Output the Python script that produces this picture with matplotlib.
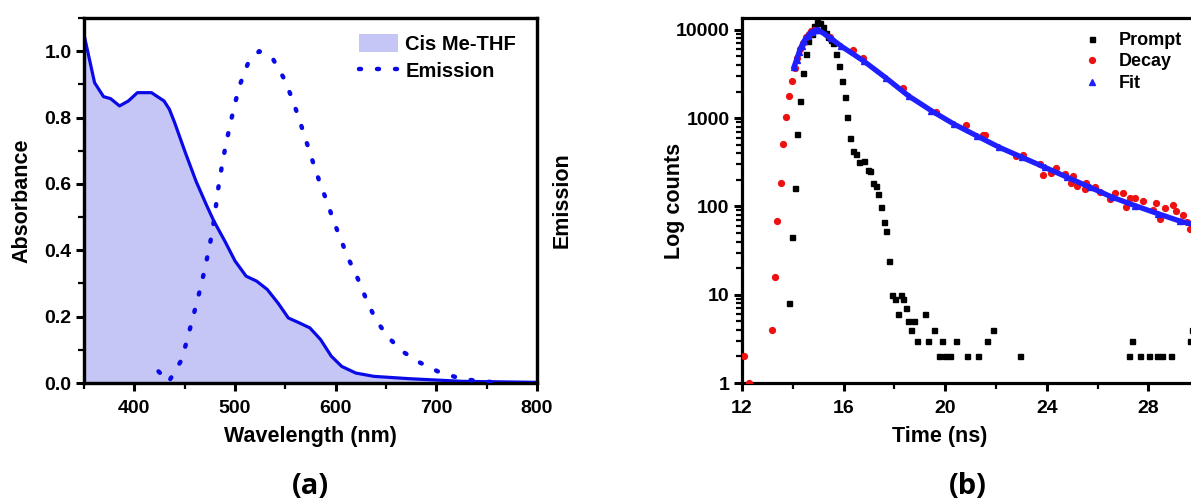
import matplotlib
matplotlib.use("Agg")
import matplotlib.pyplot as plt
from matplotlib.lines import Line2D
from matplotlib.patches import Patch
from matplotlib.ticker import MultipleLocator, LogLocator, NullFormatter, FixedLocator, FixedFormatter

# ---------------- (a) absorption / emission spectra ----------------
abs_wavelength = [350, 360.5, 369.4, 376.4, 385.3, 394.1, 403, 417, 429.5, 434.8, 440, 450.7,
                  461.3, 472, 479, 490, 500, 511, 521.5, 532, 542.7, 553, 564, 574.4,
                  585, 595.6, 606, 620, 638, 673, 726, 800]
absorbance = [1.05, 0.905, 0.863, 0.857, 0.835, 0.85, 0.875, 0.875, 0.85, 0.825, 0.785, 0.694,
              0.608, 0.534, 0.488, 0.427, 0.368, 0.322, 0.307, 0.282, 0.241, 0.196, 0.181,
              0.166, 0.131, 0.081, 0.05, 0.03, 0.02, 0.013, 0.005, 0.002]

em_wavelength = [424, 434, 447, 453, 458.5, 464, 469, 473.4, 477.3, 480.4, 483, 486.6,
                 490.3, 494.8, 499.4, 504.4, 512.6, 524, 538, 548.6, 556.8, 563.8, 570.2,
                 577.3, 584, 591.4, 598, 605.4, 613.4, 622.2, 631, 640, 652.2, 666.4, 684,
                 703.5, 724.8, 744, 760]
emission = [0.035, 0.003, 0.07, 0.137, 0.201, 0.266, 0.33, 0.393, 0.453, 0.518, 0.58, 0.647,
            0.709, 0.774, 0.835, 0.895, 0.961, 1.0, 0.975, 0.918, 0.857, 0.795, 0.734,
            0.667, 0.606, 0.546, 0.488, 0.43, 0.37, 0.313, 0.248, 0.19, 0.138, 0.095, 0.061,
            0.032, 0.013, 0.005, 0.002]

wl_ticks = [400, 500, 600, 700, 800]
abs_ticks = [0.0, 0.2, 0.4, 0.6, 0.8, 1.0]

# ---------------- (b) fluorescence decay ----------------
prompt_t = [13.84, 13.95, 14.07, 14.17, 14.27, 14.40, 14.51, 14.61, 14.74, 14.85, 14.96,
            15.07, 15.18, 15.29, 15.40, 15.50, 15.58, 15.70, 15.81, 15.93, 16.04, 16.13,
            16.24, 16.37, 16.48, 16.61, 16.79, 16.95, 17.05, 17.16, 17.26, 17.36, 17.47,
            17.58, 17.68, 17.79, 17.89, 18.01, 18.13, 18.26, 18.34, 18.45, 18.55, 18.67,
            18.79, 18.89, 19.22, 19.32, 19.55, 19.76, 19.87, 19.98, 20.20, 20.44, 20.87,
            21.31, 21.65, 21.88, 22.96, 27.24, 27.35, 27.68, 28.02, 28.34, 28.55, 28.89,
            29.63, 29.70]
prompt_counts = [8, 45, 163, 660, 1570, 3200, 5300, 7500, 9000, 11000, 12300,
                 12000, 10800, 9300, 8300, 7600, 7000, 5300, 3900, 2600, 1720, 1040,
                 600, 427, 390, 322, 330, 258, 252, 182, 170, 138, 98,
                 67, 53, 24, 10, 9, 6, 10, 9, 7, 5, 4,
                 5, 3, 6, 3, 4, 2, 3, 2, 2, 3, 2,
                 2, 3, 4, 2, 2, 3, 2, 2, 2, 2, 2,
                 3, 4]

decay_t = [12.07, 12.27, 13.18, 13.29, 13.39, 13.52, 13.62, 13.74, 13.85, 13.96, 14.07,
           14.18, 14.29, 14.40, 14.51, 14.62, 14.73, 14.85, 14.96, 15.45, 16.37, 16.76,
           18.34, 19.65, 20.83, 21.49, 21.56, 22.80, 23.06, 23.72, 23.85, 24.18, 24.38,
           24.70, 24.97, 25.03, 25.17, 25.49, 25.56, 25.89, 26.08, 26.48, 26.67, 27.00,
           27.13, 27.26, 27.46, 27.79, 28.18, 28.31, 28.47, 28.64, 28.97, 29.10, 29.36,
           29.50, 29.63]
decay_counts = [2, 1, 4, 16, 69, 182, 505, 1040, 1780, 2650, 3700,
                4800, 6000, 7100, 8200, 9000, 9600, 9900, 10000, 8350, 5900, 4800,
                2200, 1180, 830, 645, 650, 375, 385, 300, 225, 236, 271,
                233, 186, 222, 170, 156, 183, 164, 147, 121, 141, 141,
                98, 126, 123, 114, 92, 110, 72, 97, 103, 88, 80,
                67, 56]

fit_t = [14.05, 14.15, 14.25, 14.35, 14.45, 14.60, 14.75, 14.90, 15.0, 15.5, 15.9, 16.79,
         17.68, 18.56, 19.46, 20.35, 21.24, 22.13, 23.02, 23.91, 24.80, 25.69, 26.58,
         27.47, 28.36, 29.25, 30.0]
fit_counts = [3800, 4600, 5600, 6600, 7500, 8600, 9500, 9950, 10000, 8000, 6540, 4430,
              2830, 1780, 1210, 853, 630, 467, 360, 278, 214, 165, 127,
              102, 83, 68, 60]

time_ticks = [12, 16, 20, 24, 28]
count_ticks = [1, 10, 100, 1000, 10000]

# ---------------- styling ----------------
plt.rcParams["font.family"] = ["Liberation Sans", "DejaVu Sans"]
plt.rcParams["font.weight"] = "bold"
plt.rcParams["axes.labelweight"] = "bold"

FILL = "#c6c6f6"
LINE_BLUE = "#0a0ae6"
FIT_BLUE = "#1f1fff"
DECAY_RED = "#ee1111"

W, H = 1191, 504
fig = plt.figure(figsize=(W / 100, H / 100), dpi=100)


def px_rect(left, top, right, bottom):
    return [left / W, 1 - bottom / H, (right - left) / W, (bottom - top) / H]


def style_axes(a):
    for s in a.spines.values():
        s.set_linewidth(2.3)
        s.set_color("black")
    a.tick_params(which="major", direction="out", length=6, width=2.2, labelsize=14, pad=3,
                  top=False, right=False)
    a.tick_params(axis="x", which="major", pad=6.5)
    a.tick_params(which="minor", direction="out", length=4, width=1.6, top=False, right=False)
    for lab in a.get_xticklabels() + a.get_yticklabels():
        lab.set_fontweight("bold")


# ---- panel (a)
ax = fig.add_axes(px_rect(84, 18, 537, 383))
ax.fill_between(abs_wavelength, absorbance, 0, color=FILL, linewidth=0, zorder=1)
ax.plot(abs_wavelength, absorbance, color=LINE_BLUE, lw=2.3, zorder=3)
ax.set_xlim(350, 800)
ax.set_ylim(0, 1.1)
ax.xaxis.set_major_locator(FixedLocator(wl_ticks))
ax.xaxis.set_minor_locator(MultipleLocator(50))
ax.yaxis.set_major_locator(FixedLocator(abs_ticks))
ax.yaxis.set_major_formatter(FixedFormatter([f"{v:.1f}" for v in abs_ticks]))
ax.yaxis.set_minor_locator(MultipleLocator(0.1))
style_axes(ax)
ax.set_xlabel("Wavelength (nm)", fontsize=15.5, fontweight="bold")
ax.set_ylabel("Absorbance", fontsize=15.5, fontweight="bold")
ax.xaxis.set_label_coords(0.5, -0.118)
ax.yaxis.set_label_coords(-0.113, 0.5)

ax2 = ax.twinx()
ax2.plot(em_wavelength, emission, color=LINE_BLUE, lw=3.2,
         linestyle=(0, (0.45, 3.6)), dash_capstyle="round", zorder=3)
ax2.set_ylim(0, 1.1)
ax2.set_yticks([])
for s in ax2.spines.values():
    s.set_linewidth(2.3)
ax2.set_ylabel("Emission", fontsize=15.5, fontweight="bold")
ax2.yaxis.set_label_coords(1.032, 0.5)

leg_a_handles = [Patch(facecolor=FILL, edgecolor="none"),
                 Line2D([], [], color=LINE_BLUE, lw=3.2, linestyle=(0, (0.45, 3.6)),
                        dash_capstyle="round")]
ax.legend(leg_a_handles, ["Cis Me-THF", "Emission"], loc="upper left",
          bbox_to_anchor=(0.607, 0.955), frameon=False, fontsize=14.5,
          handlelength=1.95, handleheight=1.0, handletextpad=0.35, labelspacing=0.35,
          borderpad=0, borderaxespad=0)

# ---- panel (b)
bx = fig.add_axes(px_rect(742, 18, 742 + 20 * 25.4, 383))
bx.plot(prompt_t, prompt_counts, linestyle="none", marker="s", ms=3.6, color="black", zorder=2)
bx.plot(decay_t, decay_counts, linestyle="none", marker="o", ms=4.2, color=DECAY_RED, zorder=3)
bx.plot(fit_t, fit_counts, color=FIT_BLUE, lw=3.8, marker="^", ms=4.2, zorder=4)
bx.set_yscale("log")
bx.set_xlim(12, 32)
bx.set_ylim(1, 13600)
bx.xaxis.set_major_locator(FixedLocator(time_ticks))
bx.xaxis.set_minor_locator(MultipleLocator(2))
bx.yaxis.set_major_locator(FixedLocator(count_ticks))
bx.yaxis.set_major_formatter(FixedFormatter([str(v) for v in count_ticks]))
bx.yaxis.set_minor_locator(LogLocator(base=10, subs=range(2, 10), numticks=20))
bx.yaxis.set_minor_formatter(NullFormatter())
style_axes(bx)
bx.set_xlabel("Time (ns)", fontsize=15.5, fontweight="bold")
bx.set_ylabel("Log counts", fontsize=15.5, fontweight="bold")
bx.xaxis.set_label_coords(0.39, -0.118)
bx.yaxis.set_label_coords(-0.112, 0.5)

leg_b_handles = [Line2D([], [], linestyle="none", marker="s", ms=3.6, color="black"),
                 Line2D([], [], linestyle="none", marker="o", ms=4.2, color=DECAY_RED),
                 Line2D([], [], linestyle="none", marker="^", ms=4.2, color=FIT_BLUE)]
bx.legend(leg_b_handles, ["Prompt", "Decay", "Fit"], loc="upper left",
          bbox_to_anchor=(0.671, 0.962), frameon=False, fontsize=13, numpoints=1,
          handlelength=1.0, handletextpad=1.0, labelspacing=0.25,
          borderpad=0, borderaxespad=0)

# ---- panel captions
fig.text(310 / W, 1 - 486 / H, "(a)", family=["Open Sans", "DejaVu Sans"],
         fontweight="bold", fontsize=21, ha="center", va="center")
fig.text(968 / W, 1 - 486 / H, "(b)", family=["Open Sans", "DejaVu Sans"],
         fontweight="bold", fontsize=21, ha="center", va="center")

fig.savefig("out.png", dpi=100)
